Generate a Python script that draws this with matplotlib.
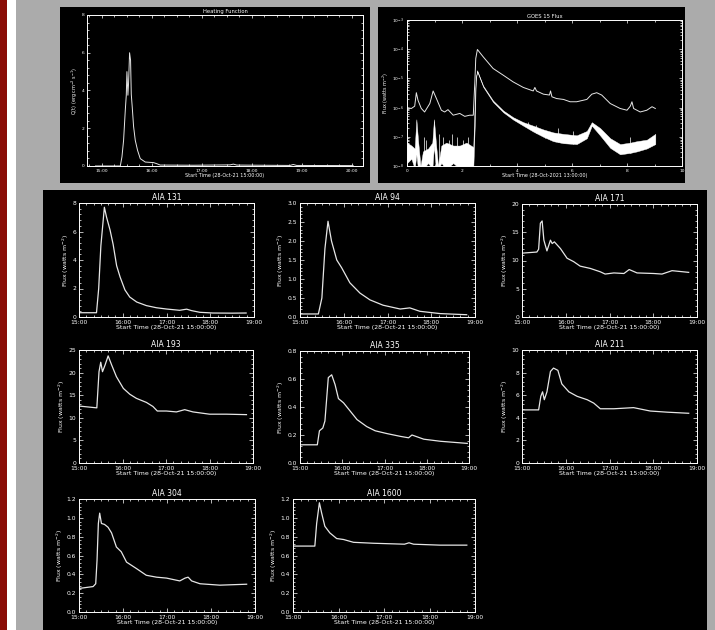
import matplotlib
matplotlib.use('Agg')
import matplotlib.pyplot as plt
from matplotlib.patches import Rectangle
from matplotlib.ticker import MultipleLocator, FixedLocator, FixedFormatter, FormatStrFormatter, LogLocator, NullFormatter
import numpy as np

# ---------------- data (hours after start) ----------------
time_labels = ['15:00', '16:00', '17:00', '18:00', '19:00']
xlabel_aia = 'Start Time (28-Oct-21 15:00:00)'
ylabel_flux = 'Flux (watts m$^{-2}$)'

t131 = [0.0, 0.40, 0.45, 0.50, 0.58, 0.63, 0.71, 0.78, 0.86, 0.94, 1.05, 1.16, 1.32, 1.54, 1.77, 2.0, 2.3, 2.46, 2.57, 2.76, 3.06, 3.5, 3.82]
f131 = [0.30, 0.30, 2.0, 5.0, 7.7, 7.0, 6.1, 5.1, 3.6, 2.8, 1.9, 1.4, 1.05, 0.8, 0.65, 0.56, 0.47, 0.55, 0.45, 0.33, 0.28, 0.27, 0.28]

t94 = [0.0, 0.42, 0.5, 0.57, 0.64, 0.72, 0.84, 0.95, 1.14, 1.37, 1.6, 1.9, 2.29, 2.51, 2.74, 3.2, 3.81]
f94 = [0.08, 0.08, 0.5, 1.8, 2.52, 2.0, 1.5, 1.3, 0.9, 0.63, 0.45, 0.31, 0.21, 0.24, 0.15, 0.09, 0.06]

t171 = [0.0, 0.34, 0.38, 0.42, 0.46, 0.50, 0.57, 0.65, 0.69, 0.74, 0.88, 1.03, 1.18, 1.33, 1.56, 1.79, 1.9, 2.1, 2.33, 2.45, 2.63, 3.01, 3.2, 3.43, 3.81]
f171 = [11.3, 11.5, 12.0, 16.6, 17.0, 13.6, 11.7, 13.6, 13.0, 13.3, 12.1, 10.4, 9.8, 9.0, 8.6, 8.0, 7.6, 7.8, 7.7, 8.4, 7.8, 7.7, 7.6, 8.2, 7.9]

t193 = [0.0, 0.41, 0.46, 0.50, 0.54, 0.60, 0.67, 0.75, 0.86, 1.02, 1.17, 1.32, 1.55, 1.70, 1.80, 2.01, 2.24, 2.43, 2.62, 3.0, 3.39, 3.85]
f193 = [12.6, 12.2, 20.2, 22.3, 20.2, 21.7, 23.7, 21.7, 19.1, 16.5, 15.2, 14.3, 13.4, 12.5, 11.5, 11.5, 11.3, 11.8, 11.3, 10.8, 10.8, 10.7]

t335 = [0.0, 0.41, 0.46, 0.54, 0.59, 0.67, 0.75, 0.83, 0.91, 1.03, 1.19, 1.35, 1.58, 1.78, 2.06, 2.38, 2.57, 2.65, 2.93, 3.33, 3.96]
f335 = [0.13, 0.13, 0.23, 0.25, 0.30, 0.61, 0.63, 0.56, 0.46, 0.43, 0.37, 0.31, 0.26, 0.23, 0.21, 0.19, 0.18, 0.20, 0.17, 0.155, 0.14]

t211 = [0.0, 0.38, 0.43, 0.47, 0.51, 0.57, 0.65, 0.72, 0.82, 0.91, 1.07, 1.26, 1.49, 1.64, 1.79, 2.1, 2.55, 2.93, 3.31, 3.81]
f211 = [4.7, 4.7, 5.9, 6.3, 5.6, 6.3, 8.1, 8.4, 8.2, 7.0, 6.3, 5.9, 5.6, 5.3, 4.8, 4.8, 4.9, 4.6, 4.5, 4.4]

t304 = [0.0, 0.32, 0.38, 0.41, 0.44, 0.47, 0.51, 0.58, 0.66, 0.74, 0.85, 0.96, 1.08, 1.31, 1.53, 1.76, 1.99, 2.29, 2.41, 2.48, 2.56, 2.75, 3.2, 3.81]
f304 = [0.25, 0.27, 0.30, 0.55, 0.94, 1.05, 0.94, 0.93, 0.90, 0.84, 0.69, 0.64, 0.53, 0.46, 0.39, 0.37, 0.36, 0.33, 0.36, 0.37, 0.33, 0.30, 0.285, 0.295]

t1600 = [0.0, 0.48, 0.52, 0.58, 0.63, 0.70, 0.81, 0.96, 1.11, 1.33, 1.77, 2.45, 2.55, 2.65, 3.23, 3.82]
f1600 = [0.70, 0.70, 0.94, 1.16, 1.05, 0.91, 0.84, 0.78, 0.77, 0.74, 0.73, 0.72, 0.735, 0.72, 0.71, 0.71]

# heating function
heat_labels = ['15:00', '16:00', '17:00', '18:00', '19:00', '20:00']
t_heat = [-0.13, 0.367, 0.40, 0.433, 0.467, 0.487, 0.50, 0.52, 0.533, 0.553, 0.573, 0.587, 0.607, 0.633, 0.667, 0.713, 0.767, 0.867, 1.033, 1.10, 1.167, 1.833, 2.567, 2.633, 2.70, 3.167, 3.767, 3.833, 3.90, 5.033]
q_heat = [0.0, 0.0, 0.48, 1.36, 2.95, 3.75, 5.0, 3.75, 4.4, 6.0, 5.6, 3.8, 3.1, 2.1, 1.36, 0.83, 0.39, 0.21, 0.18, 0.12, 0.05, 0.04, 0.06, 0.10, 0.05, 0.04, 0.03, 0.08, 0.03, 0.02]

# GOES (log10 flux)
t_long = [0, 0.16, 0.28, 0.34, 0.40, 0.52, 0.64, 0.83, 0.95, 1.07, 1.25, 1.37, 1.49, 1.68, 1.92, 2.1, 2.28, 2.41, 2.47, 2.50, 2.56, 2.77, 3.13, 3.50, 3.86, 4.23, 4.59, 4.65, 4.71, 4.96, 5.18, 5.22, 5.27, 5.44, 5.69, 5.93, 6.17, 6.54, 6.72, 6.90, 7.08, 7.39, 7.75, 8.0, 8.12, 8.18, 8.24, 8.48, 8.72, 8.91, 9.03]
log_long = [-6.0, -6.03, -5.95, -5.49, -5.75, -6.03, -6.15, -5.86, -5.43, -5.69, -6.09, -6.15, -6.07, -6.26, -6.2, -6.3, -6.26, -6.26, -5.06, -4.32, -4.01, -4.26, -4.66, -4.89, -5.12, -5.31, -5.43, -5.31, -5.43, -5.54, -5.57, -5.43, -5.63, -5.69, -5.72, -5.80, -5.80, -5.72, -5.54, -5.49, -5.57, -5.86, -6.03, -6.09, -5.95, -5.80, -6.03, -6.15, -6.09, -5.97, -6.03]
t_short = [0, 0.16, 0.28, 0.34, 0.40, 0.49, 0.58, 0.77, 0.92, 0.98, 1.05, 1.13, 1.25, 1.43, 1.68, 1.92, 2.16, 2.41, 2.47, 2.50, 2.55, 2.77, 3.13, 3.50, 3.86, 4.23, 4.59, 4.96, 5.32, 5.69, 6.17, 6.54, 6.72, 7.02, 7.39, 7.75, 8.12, 8.36, 8.72, 9.03]
log_short_hi = [-7.2, -7.3, -7.4, -6.4, -7.1, -8.0, -7.5, -7.4, -7.2, -6.4, -7.2, -8.0, -7.3, -7.2, -7.3, -7.3, -7.2, -7.35, -5.6, -5.0, -4.72, -5.25, -5.76, -6.1, -6.33, -6.5, -6.62, -6.75, -6.85, -6.9, -6.95, -6.8, -6.5, -6.7, -7.05, -7.25, -7.2, -7.15, -7.1, -6.9]
log_short_lo = [-7.9, -7.75, -8.1, -7.6, -8.1, -8.1, -8.1, -7.9, -8.1, -7.3, -8.1, -8.1, -7.9, -8.1, -7.9, -8.1, -8.1, -8.1, -6.4, -5.05, -4.76, -5.29, -5.81, -6.16, -6.41, -6.62, -6.82, -7.0, -7.15, -7.22, -7.25, -7.05, -6.62, -6.95, -7.38, -7.6, -7.55, -7.5, -7.4, -7.25]
spike_t = [0.62, 0.70, 1.18, 1.32, 1.52, 1.62, 1.80, 2.02, 2.22, 4.40, 4.70, 5.02, 5.50, 6.02, 8.10]
spike_top = [-7.0, -7.1, -6.9, -7.0, -7.1, -6.9, -7.0, -7.1, -7.0, -6.5, -6.6, -6.8, -6.7, -6.8, -7.0]
goes_labels = ['0', '2', '4', '6', '8', '10']

# ---------------- layout ----------------
W, H = 715, 630
def rect(x0, y0, x1, y1):
    return [x0 / W, 1 - y1 / H, (x1 - x0) / W, (y1 - y0) / H]

fig = plt.figure(figsize=(W / 100, H / 100), dpi=100)
fig.patch.set_facecolor('#ababab')
plt.rcParams['font.family'] = ['DejaVu Sans']

def box(x0, y0, x1, y1, color):
    fig.add_artist(Rectangle((x0 / W, 1 - y1 / H), (x1 - x0) / W, (y1 - y0) / H,
                             transform=fig.transFigure, facecolor=color,
                             edgecolor='none', zorder=-5))

box(0, 0, 7, 630, '#8a0c06')
box(7, 0, 16, 630, '#ffffff')
box(60, 7, 370, 183, '#000000')
box(378, 7, 685, 183, '#000000')
box(43, 190, 707, 630, '#000000')

LC = '#e6e6e6'

def style(ax, fs, major=3.0, minor=1.5):
    ax.set_facecolor('black')
    for s in ax.spines.values():
        s.set_color('white')
        s.set_linewidth(0.7)
    ax.tick_params(which='both', direction='in', top=True, right=True,
                   colors='white', labelsize=fs, width=0.5, pad=2)
    ax.tick_params(which='major', length=major)
    ax.tick_params(which='minor', length=minor)

# AIA panels
panels = [
    ('AIA 131', t131, f131, 8, 2, '%d', (79, 203, 254, 317)),
    ('AIA 94', t94, f94, 3.0, 0.5, '%.1f', (300, 203, 475, 317)),
    ('AIA 171', t171, f171, 20, 5, '%d', (522, 204, 697, 317)),
    ('AIA 193', t193, f193, 25, 5, '%d', (79, 350, 253, 463)),
    ('AIA 335', t335, f335, 0.8, 0.2, '%.1f', (300, 351, 469, 463)),
    ('AIA 211', t211, f211, 10, 2, '%d', (522, 350, 697, 463)),
    ('AIA 304', t304, f304, 1.2, 0.2, '%.1f', (79, 499, 255, 612)),
    ('AIA 1600', t1600, f1600, 1.2, 0.2, '%.1f', (293, 499, 475, 612)),
]
for title, tt, ff, ymax, ystep, fmt, pos in panels:
    ax = fig.add_axes(rect(*pos))
    style(ax, 4.3)
    ax.plot(tt, ff, color=LC, lw=0.9)
    ax.set_xlim(0, 4)
    ax.set_ylim(0, ymax)
    ax.xaxis.set_major_locator(FixedLocator(range(len(time_labels))))
    ax.xaxis.set_major_formatter(FixedFormatter(time_labels))
    ax.xaxis.set_minor_locator(MultipleLocator(1 / 6))
    ax.yaxis.set_major_locator(MultipleLocator(ystep))
    ax.yaxis.set_minor_locator(MultipleLocator(ystep / 5))
    ax.yaxis.set_major_formatter(FormatStrFormatter(fmt))
    ax.set_title(title, color='white', fontsize=5.5, pad=2)
    ax.set_xlabel(xlabel_aia, color='white', fontsize=4.5, labelpad=0.5)
    ax.set_ylabel(ylabel_flux, color='white', fontsize=4.5, labelpad=1)

# Heating function
axh = fig.add_axes(rect(87, 15, 363, 166))
style(axh, 3.2, 2.5, 1.2)
axh.plot(t_heat, q_heat, color=LC, lw=0.7)
axh.set_xlim(-0.3, 5.23)
axh.set_ylim(0, 8)
axh.xaxis.set_major_locator(FixedLocator(range(len(heat_labels))))
axh.xaxis.set_major_formatter(FixedFormatter(heat_labels))
axh.xaxis.set_minor_locator(MultipleLocator(0.25))
axh.yaxis.set_major_locator(MultipleLocator(2))
axh.yaxis.set_minor_locator(MultipleLocator(0.4))
axh.set_title('Heating Function', color='white', fontsize=3.8, pad=1.5)
axh.set_xlabel(xlabel_aia, color='white', fontsize=3.5, labelpad=0.5)
axh.set_ylabel('Q(t) (erg cm$^{-3}$ s$^{-1}$)', color='white', fontsize=3.5, labelpad=1)

# GOES
axg = fig.add_axes(rect(407, 20, 682, 166))
style(axg, 3.2, 2.5, 1.2)
axg.set_yscale('log')
axg.plot(t_long, 10 ** np.array(log_long), color=LC, lw=0.7)
axg.fill_between(t_short, 10 ** np.array(log_short_lo), 10 ** np.array(log_short_hi),
                 color='white', lw=0.3, edgecolor='white')
axg.vlines(spike_t, 10 ** np.interp(spike_t, t_short, log_short_lo),
           10 ** np.array(spike_top), color='white', lw=0.5)
axg.set_xlim(0, 10)
axg.set_ylim(1e-8, 1e-3)
axg.xaxis.set_major_locator(FixedLocator([0, 2, 4, 6, 8, 10]))
axg.xaxis.set_major_formatter(FixedFormatter(goes_labels))
axg.xaxis.set_minor_locator(MultipleLocator(1))
axg.yaxis.set_major_locator(LogLocator(base=10, numticks=10))
axg.yaxis.set_minor_locator(LogLocator(base=10, subs=np.arange(2, 10), numticks=20))
axg.yaxis.set_minor_formatter(NullFormatter())
axg.set_title('GOES 15 Flux', color='white', fontsize=3.8, pad=1.5)
axg.set_xlabel('Start Time (28-Oct-2021 13:00:00)', color='white', fontsize=3.5, labelpad=0.5)
axg.set_ylabel(ylabel_flux, color='white', fontsize=3.5, labelpad=1)

fig.savefig('out.png', dpi=100, facecolor=fig.get_facecolor())
